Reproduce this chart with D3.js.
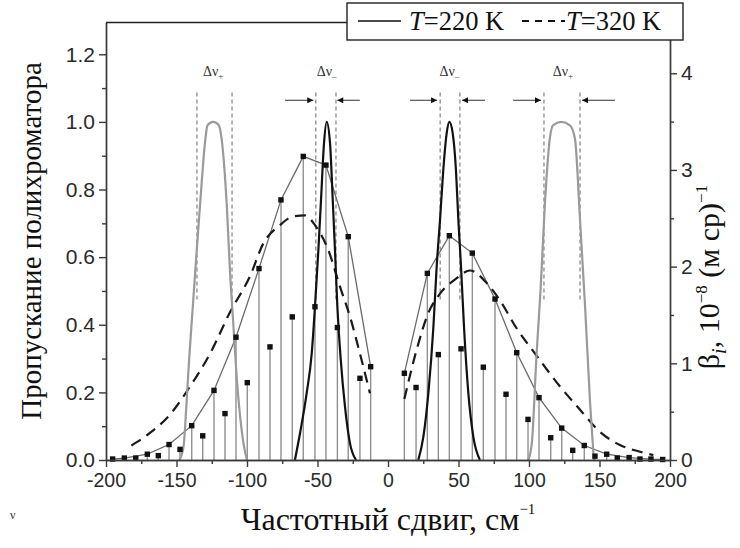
<!DOCTYPE html>
<html><head><meta charset="utf-8">
<script src="https://cdn.jsdelivr.net/npm/d3@7"></script>
<style>body{margin:0;background:#fff}svg{display:block}</style>
</head><body>
<svg id="c" width="740" height="548"></svg>
<script>
// ---- data ----
const xTicks = [-200,-150,-100,-50,0,50,100,150,200];
const xMinorTicks = [-175,-125,-75,-25,25,75,125,175];
const yLeftTicks = [0,0.2,0.4,0.6,0.8,1.0,1.2];
const yLeftMinor = [0.1,0.3,0.5,0.7,0.9,1.1];
const yRightTicks = [0,1,2,3,4];
const yRightMinor = [0.5,1.5,2.5,3.5];

// rotational Raman lines: shift (cm-1) and beta (right axis)
const lineShift = [-195.3,-187.0,-178.9,-170.7,-162.9,-155.3,-147.5,-139.2,-131.4,-123.4,-115.6,-107.8,-99.8,-91.5,-83.7,-75.9,-67.9,-60.1,-51.8,-44.0,-35.9,-28.2,-19.9,-12.3,
  11.6,19.9,27.9,35.7,43.5,51.8,59.8,67.6,75.9,83.7,91.3,99.3,107.1,115.4,123.2,131.0,139.2,146.8,155.1,162.6,171.0,178.7,186.5,194.8];
const lineBeta = [0.01,0.02,0.02,0.06,0.045,0.16,0.11,0.355,0.25,0.72,0.48,1.27,0.80,1.98,1.17,2.69,1.48,3.14,1.585,3.05,1.37,2.31,0.845,0.965,
  0.897,0.75,1.93,1.09,2.32,1.15,2.14,0.96,1.665,0.68,1.11,0.42,0.645,0.23,0.33,0.10,0.15,0.04,0.06,0.02,0.025,0.01,0.01,0.005];

// T=220 K envelope (thin solid)
const env220LeftX = [-195.3,-187.0,-170.7,-155.3,-139.2,-123.4,-107.8,-91.5,-75.9,-60.1,-44.0,-28.2,-12.3];
const env220LeftY = [0.01,0.02,0.06,0.16,0.355,0.72,1.27,1.98,2.69,3.14,3.05,2.31,0.965];
const env220RightX = [11.6,27.9,43.5,59.8,75.9,91.3,107.1,123.2,139.2,155.1,171.0,186.5,194.8];
const env220RightY = [0.897,1.93,2.32,2.14,1.665,1.11,0.645,0.33,0.15,0.06,0.025,0.01,0.005];

// T=320 K envelope (dashed)
const env320LeftX = [-182,-168.8,-154.6,-140.4,-126.2,-112,-97.9,-88.4,-76.6,-67.2,-58.9,-51.8,-42.3,-34,-26.9,-19.9,-12.8];
const env320LeftY = [0.15,0.28,0.47,0.76,1.10,1.53,1.90,2.24,2.43,2.52,2.53,2.43,2.17,1.79,1.48,1.10,0.69];
const env320RightX = [11.6,20.3,28.6,36.9,48.7,58.2,70,79.4,91.3,104.3,122,136.2,150.4,164.5,178.7,188.2];
const env320RightY = [0.63,1.14,1.52,1.72,1.88,1.96,1.83,1.65,1.36,1.10,0.76,0.52,0.29,0.155,0.086,0.05];

// polychromator transmission (left axis)
const filterOuterLeftX = [-148,-145,-143,-141,-138.5,-136,-132.5,-130,-128,-124,-120,-118,-114.3,-112,-109.6,-107.2,-104.9,-102.1,-100];
const filterOuterLeftY = [0,0.04,0.16,0.30,0.45,0.60,0.80,0.93,0.99,1.0,0.99,0.95,0.75,0.553,0.395,0.238,0.13,0.04,0];
const filterOuterRightX = [99.5,102,105.4,108.3,111.3,114.9,117,123,129,132.6,136.2,139.7,143.3,146];
const filterOuterRightY = [0,0.05,0.315,0.51,0.76,0.955,0.99,1.0,0.99,0.95,0.71,0.46,0.17,0];
const filterInnerLeftX = [-66,-62.4,-57.7,-54.1,-51.8,-49.4,-47.5,-45.4,-43.5,-41.1,-39.2,-37.6,-35.9,-33.5,-30.5,-27,-22.7];
const filterInnerLeftY = [0,0.079,0.197,0.315,0.453,0.62,0.77,0.936,1.0,0.936,0.77,0.62,0.453,0.296,0.158,0.05,0];
const filterInnerRightX = [21.5,25.1,28.6,32.2,34.5,36.9,39.2,41.6,43.5,45.9,48.2,49.9,51.8,53.9,57,60.5,65.2];
const filterInnerRightY = [0,0.069,0.197,0.394,0.571,0.71,0.857,0.966,1.0,0.966,0.857,0.71,0.571,0.394,0.197,0.069,0];

// spectral intervals Δν (dashed verticals), labels and arrows
const bandEdges = [-135.5,-110.6,-51.2,-36.9,37,51,110.6,136.2];
const bandLabelX = [-124,-43.5,43.5,124];
const bandLabelSign = ["+","–","–","+"];
const arrowFrom = [-73,-20,15.6,68.8,88.7,161];
const arrowTo   = [-53,-36,34.8,52.5,108.5,137.6];
const bandTop = 1.087, bandBottom = 0.47, arrowLevel = 1.064, labelLevel = 1.135;

const legendLabels = ["220 K","320 K"];

// ---- drawing ----
const svg = d3.select("#c");
const L = 106, R = 670, T = 22.5, B = 460;
const x = d3.scaleLinear().domain([-200,200]).range([L,R]);
const yL = d3.scaleLinear().domain([0,1.294]).range([B,T]);
const yR = d3.scaleLinear().domain([0,4.525]).range([B,T]);
const axisColor = "#3a3a3a";
const tickFont = "'Liberation Sans', Arial, sans-serif";
const serif = "'Liberation Serif', 'Times New Roman', serif";

const zip = (a,b) => a.map((v,i)=>[v,b[i]]);

// stems
svg.append("g").selectAll("line").data(zip(lineShift,lineBeta)).join("line")
  .attr("x1",d=>x(d[0])).attr("x2",d=>x(d[0]))
  .attr("y1",yR(0)).attr("y2",d=>yR(d[1]))
  .attr("stroke","#909090").attr("stroke-width",1.4);

// Δν dashed verticals
svg.append("g").selectAll("line").data(bandEdges).join("line")
  .attr("x1",d=>x(d)).attr("x2",d=>x(d))
  .attr("y1",yL(bandTop)).attr("y2",yL(bandBottom))
  .attr("stroke","#8a8a8a").attr("stroke-width",1.3).attr("stroke-dasharray","4,3");

// T=220 K thin envelope
const lineR = d3.line().x(d=>x(d[0])).y(d=>yR(d[1]));
[[env220LeftX,env220LeftY],[env220RightX,env220RightY]].forEach(([a,b])=>{
  svg.append("path").attr("d",lineR(zip(a,b))).attr("fill","none")
    .attr("stroke","#6a6a6a").attr("stroke-width",1.3);
});
// T=320 K dashed envelope
const smoothR = d3.line().curve(d3.curveMonotoneX).x(d=>x(d[0])).y(d=>yR(d[1]));
[[env320LeftX,env320LeftY],[env320RightX,env320RightY]].forEach(([a,b])=>{
  svg.append("path").attr("d",smoothR(zip(a,b))).attr("fill","none")
    .attr("stroke","#1a1a1a").attr("stroke-width",2.2).attr("stroke-dasharray","11,7");
});

// filters
const smoothL = d3.line().curve(d3.curveMonotoneX).x(d=>x(d[0])).y(d=>yL(d[1]));
[[filterOuterLeftX,filterOuterLeftY],[filterOuterRightX,filterOuterRightY]].forEach(([a,b])=>{
  svg.append("path").attr("d",smoothL(zip(a,b))).attr("fill","none")
    .attr("stroke","#9a9a9a").attr("stroke-width",2.2);
});
[[filterInnerLeftX,filterInnerLeftY],[filterInnerRightX,filterInnerRightY]].forEach(([a,b])=>{
  svg.append("path").attr("d",smoothL(zip(a,b))).attr("fill","none")
    .attr("stroke","#111").attr("stroke-width",2.2);
});

// squares
svg.append("g").selectAll("rect").data(zip(lineShift,lineBeta)).join("rect")
  .attr("x",d=>x(d[0])-2.7).attr("y",d=>yR(d[1])-2.7)
  .attr("width",5.4).attr("height",5.4).attr("fill","#111");

// arrows
const defs = svg.append("defs");
defs.append("marker").attr("id","ah").attr("viewBox","0 0 10 10").attr("refX",10).attr("refY",5)
  .attr("markerWidth",7).attr("markerHeight",6).attr("markerUnits","userSpaceOnUse").attr("orient","auto")
  .append("path").attr("d","M0,0L10,5L0,10Z").attr("fill","#111");
svg.append("g").selectAll("line").data(zip(arrowFrom,arrowTo)).join("line")
  .attr("x1",d=>x(d[0])).attr("x2",d=>x(d[1]))
  .attr("y1",yL(arrowLevel)).attr("y2",yL(arrowLevel))
  .attr("stroke","#333").attr("stroke-width",1).attr("marker-end","url(#ah)");

// Δν labels
const lbl = svg.append("g").selectAll("text").data(zip(bandLabelX,bandLabelSign)).join("text")
  .attr("x",d=>x(d[0])).attr("y",yL(labelLevel)).attr("text-anchor","middle")
  .attr("font-family",serif).attr("font-size",14).attr("fill","#333");
lbl.append("tspan").text("Δν");
lbl.append("tspan").attr("dy",3).attr("font-size",9).text(d=>d[1]);

// axes
const gx = svg.append("g").attr("transform",`translate(0,${B})`)
  .call(d3.axisBottom(x).tickValues(xTicks).tickSize(7).tickSizeOuter(0).tickPadding(6).tickFormat(d=>String(d)));
const gxm = svg.append("g").attr("transform",`translate(0,${B})`)
  .call(d3.axisBottom(x).tickValues(xMinorTicks).tickSize(4).tickSizeOuter(0).tickFormat(""));
const gy = svg.append("g").attr("transform",`translate(${L},0)`)
  .call(d3.axisLeft(yL).tickValues(yLeftTicks).tickSize(7).tickSizeOuter(0).tickPadding(4).tickFormat(d3.format(".1f")));
const gym = svg.append("g").attr("transform",`translate(${L},0)`)
  .call(d3.axisLeft(yL).tickValues(yLeftMinor).tickSize(4).tickSizeOuter(0).tickFormat(""));
const gr = svg.append("g").attr("transform",`translate(${R},0)`)
  .call(d3.axisRight(yR).tickValues(yRightTicks).tickSize(7).tickSizeOuter(0).tickPadding(4).tickFormat(d=>String(d)));
const grm = svg.append("g").attr("transform",`translate(${R},0)`)
  .call(d3.axisRight(yR).tickValues(yRightMinor).tickSize(4).tickSizeOuter(0).tickFormat(""));
[gx,gxm,gy,gym,gr,grm].forEach(g=>{
  g.selectAll("path.domain").attr("stroke",axisColor).attr("stroke-width",1.4);
  g.selectAll("line").attr("stroke",axisColor).attr("stroke-width",1.4);
  g.selectAll("text").attr("font-family",tickFont).attr("font-size",19.5).attr("fill","#2a2a2a");
});
gy.selectAll("text").attr("font-size",21);
gr.selectAll("text").attr("font-size",21);
// top frame line
svg.append("line").attr("x1",L).attr("x2",R).attr("y1",T).attr("y2",T)
  .attr("stroke","#222").attr("stroke-width",1.4);

// legend
const lg = svg.append("g");
lg.append("rect").attr("x",347).attr("y",3).attr("width",336).attr("height",37)
  .attr("fill","#fff").attr("stroke","#222").attr("stroke-width",1.4);
lg.append("line").attr("x1",358).attr("x2",401).attr("y1",21).attr("y2",21).attr("stroke","#111").attr("stroke-width",1.5);
lg.append("line").attr("x1",522).attr("x2",565).attr("y1",21).attr("y2",21).attr("stroke","#111").attr("stroke-width",2)
  .attr("stroke-dasharray","7,6");
[[409,legendLabels[0]],[566,legendLabels[1]]].forEach(([px,t])=>{
  const tx = lg.append("text").attr("x",px).attr("y",30).attr("font-family",serif).attr("font-size",26.5).attr("fill","#111");
  tx.append("tspan").attr("font-style","italic").text("T");
  tx.append("tspan").text("="+t);
});

// axis titles
svg.append("text").attr("transform","translate(41,241) rotate(-90)")
  .attr("text-anchor","middle").attr("font-family",serif).attr("font-size",29).attr("fill","#111")
  .text("Пропускание полихроматора");
const rt = svg.append("text").attr("transform","translate(719,277) rotate(-90)")
  .attr("text-anchor","middle").attr("font-family",serif).attr("font-size",30).attr("fill","#111");
rt.append("tspan").text("β");
rt.append("tspan").attr("font-style","italic").attr("font-size",20).attr("dy",7).text("i");
rt.append("tspan").attr("dy",-7).text(", 10");
rt.append("tspan").attr("font-size",17).attr("dy",-12).text("−8");
rt.append("tspan").attr("dy",12).text(" (м ср)");
rt.append("tspan").attr("font-size",17).attr("dy",-12).text("−1");
const bt = svg.append("text").attr("x",388).attr("y",530)
  .attr("text-anchor","middle").attr("font-family",serif).attr("font-size",32).attr("fill","#111");
bt.append("tspan").text("Частотный сдвиг, см");
bt.append("tspan").attr("font-size",15).attr("dy",-16).text("−1");
svg.append("text").attr("x",10).attr("y",519).attr("font-family",serif).attr("font-size",12).attr("fill","#333").text("ν");
</script>
</body></html>
